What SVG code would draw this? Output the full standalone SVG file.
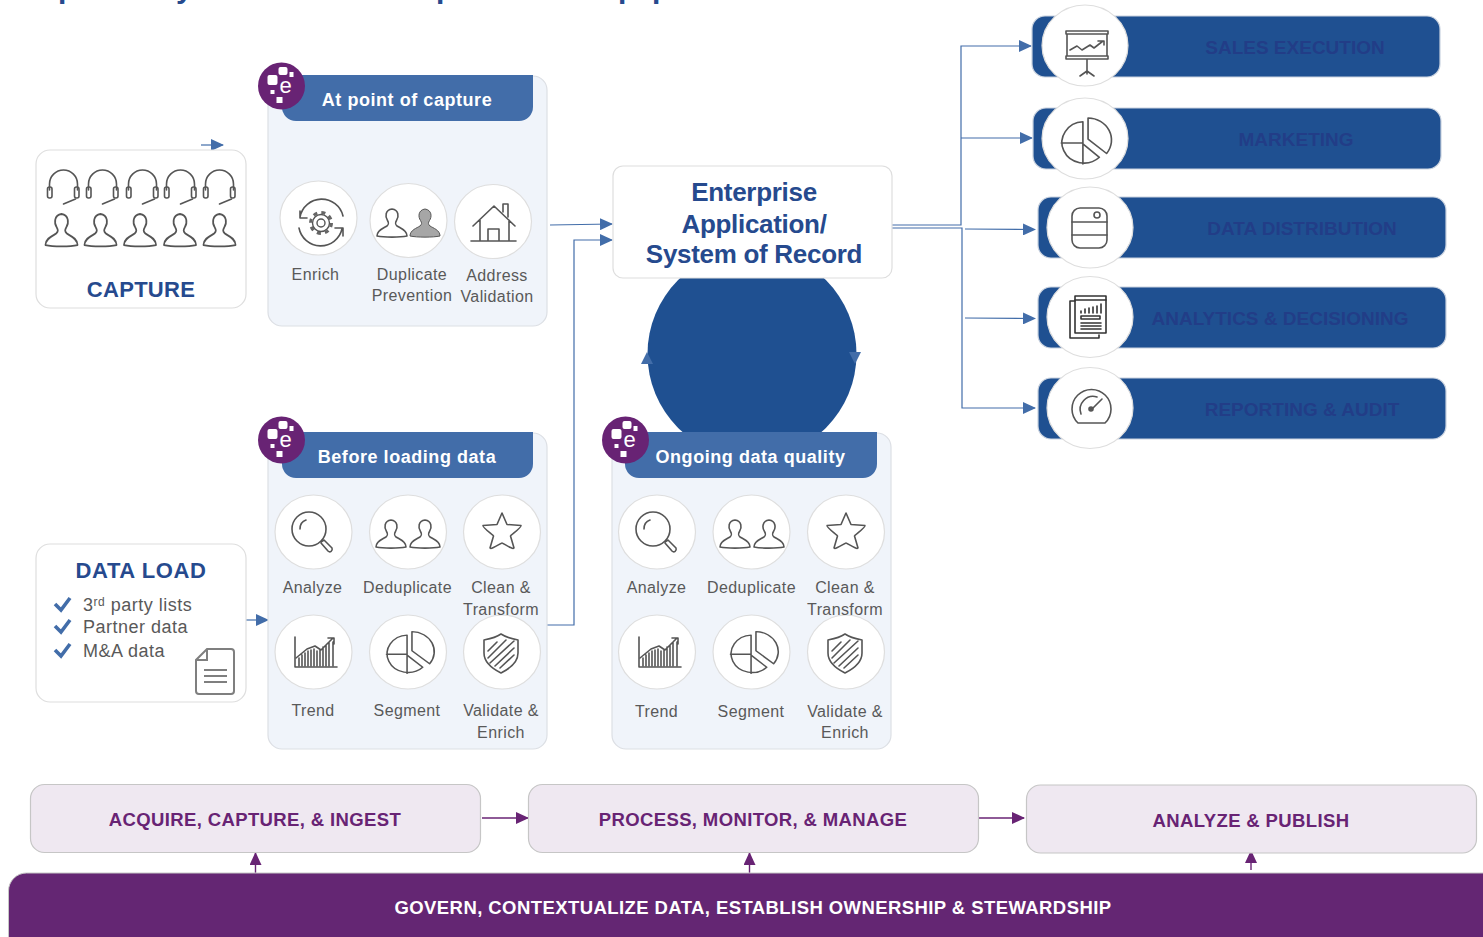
<svg xmlns="http://www.w3.org/2000/svg" width="1483" height="937" viewBox="0 0 1483 937">
<style>
text{font-family:"Liberation Sans",Arial,sans-serif}
.card{fill:#fff;stroke:#dedede;stroke-width:1.2}
.panel{fill:#f0f4fa;stroke:#dcdfe4;stroke-width:1.2}
.head{fill:#426da9}
.ht{fill:#fff;font-weight:700;font-size:18px;letter-spacing:.55px;text-anchor:middle}
.lb{fill:#595959;font-size:16px;text-anchor:middle;letter-spacing:.4px}
.ic{fill:#fff;stroke:#dedede;stroke-width:1.2}
.g{fill:none;stroke:#555;stroke-width:1.6;stroke-linejoin:round;stroke-linecap:round}
.bar{fill:#1f5091;stroke:#c9d2df;stroke-width:1.2}
.bt{fill:#223d87;font-weight:700;font-size:19px;text-anchor:middle}
.low{fill:#efe8f1;stroke:#c6c6c6;stroke-width:1.2}
.lt{fill:#682374;font-weight:700;font-size:18.500px;text-anchor:middle;letter-spacing:.37px}
.nt{fill:#264a8e;font-weight:700;text-anchor:middle}
.li{fill:#595959;font-size:18px;letter-spacing:.5px}
.cb{fill:none;stroke:#426da9;stroke-width:1.2}
.cp{fill:none;stroke:#682374;stroke-width:1.4}
.ck{fill:none;stroke:#426da9;stroke-width:3.6}
</style>
<defs>
<marker id="ab" markerUnits="userSpaceOnUse" markerWidth="13" markerHeight="12" refX="12" refY="6" orient="auto"><path d="M0,0L13,6L0,12Z" fill="#426da9"/></marker>
<marker id="ap" markerUnits="userSpaceOnUse" markerWidth="13" markerHeight="12" refX="12" refY="6" orient="auto"><path d="M0,0L13,6L0,12Z" fill="#682374"/></marker>
<g id="badge"><circle r="23.5" fill="#682374"/><rect x="-14" y="-11" width="10" height="10" rx="2" fill="#fff"/><rect x="-3" y="-19" width="9" height="8" rx="2" fill="#fff"/><rect x="8" y="-14" width="4" height="5" fill="#fff"/><rect x="-11" y="4" width="4" height="4" fill="#fff"/><rect x="-5" y="11" width="6" height="6" fill="#fff"/><text x="4" y="7" fill="#fff" font-size="22" text-anchor="middle">e</text></g>
<path id="user" d="M-15,27C-15,21 -8,19 -5,17C-3,15 -3,14 -4.500,11.500C-7,8 -7,1 0,0C7,1 7,8 4.500,11.500C3,14 3,15 5,17C8,19 15,21 15,27C8,28.500 -8,28.500 -15,27Z"/>
<g id="headset"><path d="M-12,5V-1A14,14 0 0 1 16,-1V5"/><rect x="-14" y="2" width="4.500" height="11" rx="2"/><rect x="13" y="2" width="4.500" height="11" rx="2"/><path d="M14,14L2,19"/></g>
<g id="an"><circle cx="-4" cy="-3" r="17"/><path d="M-13,-3C-13,-8 -10,-11 -7,-12M8,10L11,8L19,16C20,19 17,21 15,19L8,11"/></g>
<g id="dd"><use href="#user" x="-17" y="-12"/><use href="#user" x="17" y="-12"/></g>
<path id="star" d="M0,-18L5,-6.500L19,-5.500C20,-4 9,4 8.500,5L12,17C11,19 1,12 0,12C-1,12 -11,19 -12,17L-8.500,5C-9,4 -20,-4 -19,-5.500L-5,-6.500Z"/>
<g id="tr"><path d="M-21,-15V15H21"/><path d="M-17,14V6M-14,14V3M-11,14V1M-8,14V-1M-5,14V-2M-2,14V-3M1,14V-1M4,14V-2M7,14V-5M10,14V-7M13,14V-10M17,14V-10M-20,6L-9,-3L-1,-6L5,-2L17,-14M12,-14H18V-8"/></g>
<g id="pie"><path d="M-3,-20A21.500,21.500 0 1 0 13,17L-3,3ZM-24,2H-3M-3,3V24"/><path d="M2,-24A23,23 0 0 1 20,13L2,-2Z"/></g>
<g id="sh"><path d="M0,-19C-6,-15 -12,-14 -17,-13V0C-17,10 -8,16 0,20C8,16 17,10 17,0V-13C12,-14 6,-15 0,-19Z"/><path d="M-13,-2L-4,-11M-13,5L5,-13M-11,10L13,-12M-6,13L13,-5M-1,15L13,2"/></g>
</defs>

<text x="58 176 436 618 652" y="-2" font-size="30" font-weight="700" fill="#264a8e">pyppp</text>

<circle id="ring" cx="752" cy="354" r="104.500" fill="#1f5091"/>

<g id="connectors">
<path class="cb" d="M201,145H223" marker-end="url(#ab)"/>
<path class="cb" d="M246,620H268" marker-end="url(#ab)"/>
<path class="cb" d="M550,225L612,224" marker-end="url(#ab)"/>
<path class="cb" d="M547,625H574V240H612" marker-end="url(#ab)"/>
<path class="cb" d="M892,225H961V46H1031" marker-end="url(#ab)"/>
<path class="cb" d="M961,138H1032" marker-end="url(#ab)"/>
<path class="cb" d="M892,228H962V408H1035" marker-end="url(#ab)"/>
<path class="cb" d="M965,229L1035,229.500" marker-end="url(#ab)"/>
<path class="cb" d="M965,318L1035,318.500" marker-end="url(#ab)"/>
<path d="M647,352L653,364H641Z" fill="#426da9"/>
<path d="M855,364L849,352H861Z" fill="#426da9"/>
<path class="cp" d="M482,818H528" marker-end="url(#ap)"/>
<path class="cp" d="M978,818H1024" marker-end="url(#ap)"/>
<path class="cp" stroke-width="1" d="M255.500,873V853" marker-end="url(#ap)"/>
<path class="cp" stroke-width="1" d="M749.500,873V853" marker-end="url(#ap)"/>
<path class="cp" stroke-width="1" d="M1251,870V851" marker-end="url(#ap)"/>
</g>

<g id="capture">
<rect class="card" x="36" y="150" width="210" height="158" rx="14"/>
<g class="g">
<use href="#headset" x="61.500" y="185"/><use href="#headset" x="100.500" y="185"/><use href="#headset" x="140.500" y="185"/><use href="#headset" x="178.500" y="185"/><use href="#headset" x="217.500" y="185"/>
<use href="#user" transform="translate(61.500,214) scale(1.07,1.15)"/><use href="#user" transform="translate(100.500,214) scale(1.07,1.15)"/><use href="#user" transform="translate(140,214) scale(1.07,1.15)"/><use href="#user" transform="translate(180,214) scale(1.07,1.15)"/><use href="#user" transform="translate(219.500,214) scale(1.07,1.15)"/>
</g>
<text class="nt" x="141" y="297" font-size="22" letter-spacing=".3">CAPTURE</text>
</g>

<g id="data-load">
<rect class="card" x="36" y="544" width="210" height="158" rx="14"/>
<text class="nt" x="141" y="578" font-size="22" letter-spacing=".6">DATA LOAD</text>
<path class="ck" d="M55,604L61,610L70,598"/><path class="ck" d="M55,626L61,632L70,620"/><path class="ck" d="M55,650L61,656L70,644"/>
<text class="li" x="83" y="611">3<tspan dy="-5" font-size="12">rd</tspan><tspan dy="5"> party lists</tspan></text>
<text class="li" x="83" y="633">Partner data</text>
<text class="li" x="83" y="657">M&amp;A data</text>
<path d="M207,649H231Q234,649 234,652V691Q234,694 231,694H199Q196,694 196,691V660ZM207,649V660H196M204,670H227M204,676H227M204,682H227" fill="#fff" stroke="#7f7f7f" stroke-width="2"/>
</g>

<g id="at-point-of-capture">
<rect class="panel" x="268" y="76" width="279" height="250" rx="14"/>
<path class="head" d="M282,75H533V107A14,14 0 0 1 519,121H296A14,14 0 0 1 282,107Z"/>
<use href="#badge" x="281.500" y="86"/>
<text class="ht" x="407" y="106">At point of capture</text>
<ellipse class="ic" cx="318.500" cy="218" rx="38.500" ry="37"/><ellipse class="ic" cx="408.500" cy="220.500" rx="38.500" ry="37"/><ellipse class="ic" cx="493" cy="221.500" rx="38.500" ry="37"/>
<g class="g">
<circle cx="321" cy="223" r="10.500" stroke-width="3" stroke-dasharray="4.100 4.150" stroke="#666" stroke-linecap="butt"/><circle cx="321" cy="223" r="8.500" fill="#fff" stroke-width="1.4"/><circle cx="321" cy="223" r="4" stroke-width="1.4"/>
<path d="M300,217A22,22 0 0 1 343,216M342,229A22,22 0 0 1 299,228M300,211V218H307M343,236V228H335"/>
<use href="#user" x="392" y="209"/>
<path d="M473,226L494,206L515,226M480,220V241M509,220V241M471,241H516M488,241V229H499V241M503,212V204H508V217"/>
</g>
<use href="#user" x="425" y="209" fill="#a6a6a6" stroke="#555" stroke-width="1"/>
<text class="lb" x="315.500" y="280">Enrich</text>
<text class="lb" x="412" y="280">Duplicate</text><text class="lb" x="412" y="301">Prevention</text>
<text class="lb" x="497" y="281">Address</text><text class="lb" x="497" y="302">Validation</text>
</g>

<g id="before-loading-data">
<rect class="panel" x="268" y="433" width="279" height="316" rx="14"/>
<path class="head" d="M282,432H533V464A14,14 0 0 1 519,478H296A14,14 0 0 1 282,464Z"/>
<use href="#badge" x="281.500" y="440"/>
<text class="ht" x="407" y="463">Before loading data</text>
<ellipse class="ic" cx="313.500" cy="532" rx="38.500" ry="37"/><ellipse class="ic" cx="408" cy="532" rx="38.500" ry="37"/><ellipse class="ic" cx="502" cy="532" rx="38.500" ry="37"/>
<ellipse class="ic" cx="313.500" cy="652" rx="38.500" ry="37"/><ellipse class="ic" cx="408" cy="652" rx="38.500" ry="37"/><ellipse class="ic" cx="502" cy="652" rx="38.500" ry="37"/>
<g class="g"><use href="#an" x="313" y="532"/><use href="#dd" x="408" y="532"/><use href="#star" x="502" y="531"/><use href="#tr" x="316" y="652"/><use href="#pie" transform="translate(410,652.500) scale(.98,.87)"/><use href="#sh" x="501" y="653"/></g>
<text class="lb" x="312.500" y="593">Analyze</text><text class="lb" x="407.500" y="593">Deduplicate</text><text class="lb" x="501" y="593">Clean &amp;</text><text class="lb" x="501" y="615">Transform</text>
<text class="lb" x="313" y="716">Trend</text><text class="lb" x="407" y="716">Segment</text><text class="lb" x="501" y="716">Validate &amp;</text><text class="lb" x="501" y="738">Enrich</text>
</g>

<g id="ongoing-data-quality">
<rect class="panel" x="612" y="433" width="279" height="316" rx="14"/>
<path class="head" d="M625,432H877V464A14,14 0 0 1 863,478H639A14,14 0 0 1 625,464Z"/>
<use href="#badge" x="625.500" y="440"/>
<text class="ht" x="750.500" y="463">Ongoing data quality</text>
<ellipse class="ic" cx="657" cy="532" rx="38.500" ry="37"/><ellipse class="ic" cx="751.500" cy="532" rx="38.500" ry="37"/><ellipse class="ic" cx="846" cy="532" rx="38.500" ry="37"/>
<ellipse class="ic" cx="657" cy="652" rx="38.500" ry="37"/><ellipse class="ic" cx="751.500" cy="652" rx="38.500" ry="37"/><ellipse class="ic" cx="846" cy="652" rx="38.500" ry="37"/>
<g class="g"><use href="#an" x="657" y="532"/><use href="#dd" x="752" y="532"/><use href="#star" x="846" y="531"/><use href="#tr" x="660" y="652"/><use href="#pie" transform="translate(754,652.500) scale(.98,.87)"/><use href="#sh" x="845" y="653"/></g>
<text class="lb" x="656.500" y="593">Analyze</text><text class="lb" x="751.500" y="593">Deduplicate</text><text class="lb" x="845" y="593">Clean &amp;</text><text class="lb" x="845" y="615">Transform</text>
<text class="lb" x="656.500" y="717">Trend</text><text class="lb" x="751" y="717">Segment</text><text class="lb" x="845" y="717">Validate &amp;</text><text class="lb" x="845" y="738">Enrich</text>
</g>

<g id="enterprise">
<rect class="card" x="613" y="166" width="279" height="112" rx="10"/>
<text class="nt" x="754" y="201" font-size="26" letter-spacing="-.3">Enterprise</text>
<text class="nt" x="754" y="233" font-size="26" letter-spacing="-.3">Application/</text>
<text class="nt" x="754" y="263" font-size="26" letter-spacing="-.3">System of Record</text>
</g>

<g id="sales-execution">
<rect class="bar" x="1032" y="16" width="408" height="61" rx="13"/><ellipse class="ic" cx="1085" cy="45.500" rx="43" ry="40.500"/>
<g class="g"><path d="M1066,31H1108V34H1066ZM1066,56H1108V59H1066ZM1067,34V56M1107,34V56M1087,59V74M1087,71L1080,76M1087,71L1094,76M1070,50L1077,46L1082,50L1090,45L1094,48L1103,41M1098,41H1104V45"/></g>
<text class="bt" x="1295" y="54">SALES EXECUTION</text>
</g>
<g id="marketing">
<rect class="bar" x="1033" y="108" width="408" height="61" rx="13"/><ellipse class="ic" cx="1085" cy="138.500" rx="43" ry="40.500"/>
<g class="g"><use href="#pie" transform="translate(1086,141) scale(1.03,.96)"/></g>
<text class="bt" x="1296" y="146">MARKETING</text>
</g>
<g id="data-distribution">
<rect class="bar" x="1038" y="197" width="408" height="61" rx="13"/><ellipse class="ic" cx="1090" cy="227.500" rx="43" ry="40.500"/>
<g class="g"><rect x="1072" y="208" width="35" height="40" rx="8"/><circle cx="1097" cy="215" r="3"/><path d="M1072,222H1107M1072,235H1107"/></g>
<text class="bt" x="1302" y="235">DATA DISTRIBUTION</text>
</g>
<g id="analytics-decisioning">
<rect class="bar" x="1038" y="287" width="408" height="61" rx="13"/><ellipse class="ic" cx="1090" cy="317" rx="43" ry="40.500"/>
<g class="g" style="stroke:#333"><path d="M1075,301H1070V338H1099V335"/><rect x="1075" y="296" width="31" height="37"/><path d="M1075,300H1106M1081,313V311M1085,313V309M1089,313V308M1093,313V307M1097,313V306M1101,313V304M1081,316H1100V319H1081ZM1081,323H1101M1081,326H1101M1081,329H1101"/></g>
<text class="bt" x="1280" y="325">ANALYTICS &amp; DECISIONING</text>
</g>
<g id="reporting-audit">
<rect class="bar" x="1038" y="378" width="408" height="61" rx="13"/><ellipse class="ic" cx="1090" cy="408" rx="43" ry="40.500"/>
<g class="g"><path d="M1078,423A19.500,19.500 0 1 1 1105,423ZM1081,414A13,13 0 0 1 1097,397M1102,399L1092,409"/><circle cx="1091" cy="409" r="2" fill="#555"/></g>
<text class="bt" x="1302" y="416">REPORTING &amp; AUDIT</text>
</g>

<g id="acquire">
<rect class="low" x="30.500" y="784.500" width="450" height="68" rx="14"/>
<text class="lt" x="255" y="826">ACQUIRE, CAPTURE, &amp; INGEST</text>
</g>
<g id="process">
<rect class="low" x="528.500" y="784.500" width="450" height="68" rx="14"/>
<text class="lt" x="753" y="826">PROCESS, MONITOR, &amp; MANAGE</text>
</g>
<g id="publish">
<rect class="low" x="1026.500" y="785" width="450" height="68" rx="14"/>
<text class="lt" x="1251" y="827">ANALYZE &amp; PUBLISH</text>
</g>
<g id="govern">
<rect x="8.500" y="873" width="1500" height="90" rx="18" fill="#642673" stroke="#c6c6c6" stroke-width="1"/>
<text x="753" y="914" fill="#fff" font-weight="700" font-size="18.500" text-anchor="middle" letter-spacing=".42">GOVERN, CONTEXTUALIZE DATA, ESTABLISH OWNERSHIP &amp; STEWARDSHIP</text>
</g>
</svg>
